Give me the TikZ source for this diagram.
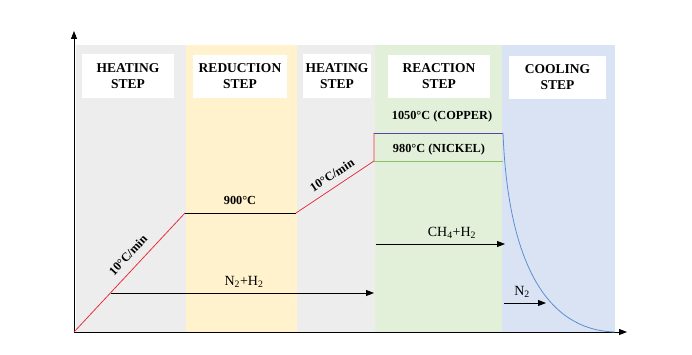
\documentclass[tikz,border=0pt]{standalone}
\usepackage{fontspec}
\setmainfont{Liberation Serif}
\usetikzlibrary{arrows.meta}
\definecolor{bandgray}{HTML}{EDEDED}
\definecolor{bandyellow}{HTML}{FFF2CC}
\definecolor{bandgreen}{HTML}{E2F0D9}
\definecolor{bandblue}{HTML}{DAE3F3}
\definecolor{rampred}{HTML}{E8303C}
\definecolor{toppurple}{HTML}{5B45A8}
\definecolor{lowgreen}{HTML}{8CC065}
\definecolor{coolblue}{HTML}{5B8FD0}
\tikzset{
  head/.style={fill=white, draw=none, align=center, inner sep=0pt,
    font=\fontsize{13.5}{16}\selectfont\bfseries},
  lbl/.style={font=\fontsize{12.3}{14}\selectfont\bfseries, inner sep=1pt},
  gas/.style={font=\fontsize{14}{16}\selectfont, inner sep=1pt},
  flow/.style={-{Triangle[length=8pt,width=6pt]}, line width=0.9pt},
  axis/.style={-{Triangle[length=8pt,width=6pt]}, line width=0.9pt},
}
\begin{document}
\begin{tikzpicture}[x=1pt,y=-1pt]
\useasboundingbox (0,0) rectangle (692,355);
\fill[white] (0,0) rectangle (692,355);
% bands
\fill[bandgray] (76,45) rectangle (186,332);
\fill[bandyellow] (186,45) rectangle (297,332);
\fill[bandgray] (297,45) rectangle (375,332);
\fill[bandgreen] (375,45) rectangle (502,332);
\fill[bandblue] (502,45) rectangle (615,332);
% headings
\node[head, minimum width=92pt, minimum height=44pt] (h1) at (128,76) {HEATING\\STEP};
\node[head, minimum width=94pt, minimum height=43pt] (h2) at (240,76.5) {REDUCTION\\STEP};
\node[head, minimum width=68pt, minimum height=44pt] (h3) at (337,76) {HEATING\\STEP};
\node[head, minimum width=102pt, minimum height=43pt] (h4) at (439,76.5) {REACTION\\STEP};
\node[head, minimum width=97pt, minimum height=43pt] (h5) at (557.5,77.5) {COOLING\\STEP};
% axes
\coordinate (o) at (74,332);
\coordinate (ytop) at (74,31);
\coordinate (xend) at (627,332);
\draw[axis] (o) -- (ytop);
\draw[axis] (o) -- (xend);
% temperature profile
\coordinate (p1) at (185,213);
\coordinate (p2) at (296,213);
\coordinate (p3) at (374,161);
\coordinate (p4) at (374,133);
\coordinate (p5) at (503,133);
\coordinate (p6) at (503,161);
\coordinate (pe) at (615,332);
\draw[rampred, line width=0.8pt] (o) -- (p1);
\draw[black, line width=0.9pt] (p1) -- (p2);
\draw[rampred, line width=0.8pt] (p2) -- (p3) -- (p4);
\draw[toppurple, line width=0.8pt] (p4) -- (p5);
\draw[lowgreen, line width=0.8pt] (p3) -- (p6);
\draw[coolblue, line width=0.8pt] (p5) .. controls (508,260) and (545,330) .. (pe);
% labels
\node[lbl] (t900) at (240,200) {900°C};
\node[lbl, rotate=47] (r1) at (128,255) {10°C/min};
\node[lbl, rotate=33] (r2) at (332,175) {10°C/min};
\node[lbl] (tcu) at (442,117) {1050°C (COPPER)};
\node[lbl] (tni) at (439,150) {980°C (NICKEL)};
% gas flows
\coordinate (a1s) at (111,293);
\coordinate (a1e) at (374,293);
\draw[flow] (a1s) -- (a1e);
\node[gas] (g1) at (244,282) {N\textsubscript{2}+H\textsubscript{2}};
\coordinate (a2s) at (376,244);
\coordinate (a2e) at (505,244);
\draw[flow] (a2s) -- (a2e);
\node[gas] (g2) at (452,233) {CH\textsubscript{4}+H\textsubscript{2}};
\coordinate (a3s) at (504,303);
\coordinate (a3e) at (546,303);
\draw[flow] (a3s) -- (a3e);
\node[gas] (g3) at (522,292) {N\textsubscript{2}};
\end{tikzpicture}
\end{document}
